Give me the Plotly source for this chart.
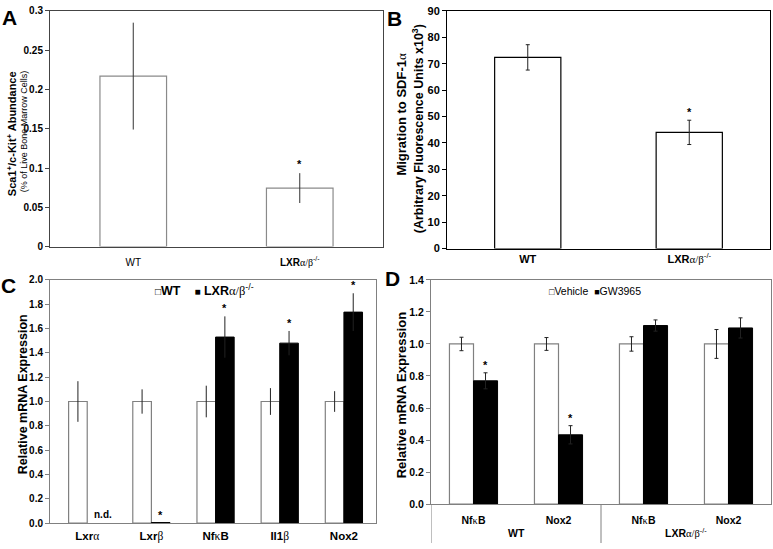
import re
import plotly.graph_objects as go

W, H = 773, 549

# ---------------- data ----------------
# Panel A
a_groups = ["WT", "LXRα/β-/-"]
a_values = [0.217, 0.0745]
a_errors = [0.068, 0.019]
a_sig = [False, True]
a_ticks = [0, 0.05, 0.1, 0.15, 0.2, 0.25, 0.3]
a_ticktext = ["0", "0.05", "0.1", "0.15", "0.2", "0.25", "0.3"]

# Panel B
b_groups = ["WT", "LXRα/β-/-"]
b_values = [72.4, 44.0]
b_errors = [4.8, 4.6]
b_sig = [False, True]
b_ticks = [0, 10, 20, 30, 40, 50, 60, 70, 80, 90]

# Panel C
c_genes = ["Lxrα", "Lxrβ", "NfκB", "Il1β", "Nox2"]
c_wt = [1.0, 1.0, 1.0, 1.0, 1.0]
c_wt_err = [0.167, 0.10, 0.13, 0.11, 0.085]
c_ko = [None, 0.005, 1.53, 1.48, 1.735]
c_ko_err = [0, 0, 0.17, 0.10, 0.155]
c_ko_sig = [False, True, True, True, True]
c_ko_nd = [True, False, False, False, False]
c_ticks = [0.0, 0.2, 0.4, 0.6, 0.8, 1.0, 1.2, 1.4, 1.6, 1.8, 2.0]

# Panel D
d_groups = ["WT", "WT", "LXRα/β-/-", "LXRα/β-/-"]
d_genes = ["NfκB", "Nox2", "NfκB", "Nox2"]
d_vehicle = [1.0, 1.0, 1.0, 1.0]
d_vehicle_err = [0.042, 0.04, 0.045, 0.09]
d_gw = [0.77, 0.433, 1.115, 1.10]
d_gw_err = [0.05, 0.057, 0.035, 0.063]
d_gw_sig = [True, True, False, False]
d_ticks = [0.0, 0.2, 0.4, 0.6, 0.8, 1.0, 1.2, 1.4]

FONT = "Arial, Liberation Sans, sans-serif"
SERIF = "Liberation Serif"


def rich(label, bold=True):
    sup = ""
    if label.endswith("-/-"):
        label, sup = label[:-3], "-/-"
    out = ""
    for run in re.findall(r"[αβκ/]+|[^αβκ/]+", label):
        if run[0] in "αβκ/":
            out += f"<span style='font-family:{SERIF}'>{run}</span>"
        else:
            out += f"<b>{run}</b>" if bold else run
    if sup:
        out += f"<sup>{sup}</sup>"
    return out


def px_x(p):
    return p / W


def px_y(p):
    return 1 - p / H


def dom_x(a, b):
    return [px_x(a), px_x(b)]


def dom_y(top, bottom):
    return [px_y(bottom), px_y(top)]


fig = go.Figure()
GRAY = "#808080"
ERR = "#222222"

# ---------- Panel A ----------
fig.add_trace(go.Bar(
    x=a_groups, y=a_values, xaxis="x", yaxis="y",
    width=0.4, offset=-0.2,
    marker=dict(color="white", line=dict(color="#8a8a8a", width=1.2)),
    error_y=dict(type="data", array=a_errors, color="#333333", thickness=1, width=0),
    showlegend=False,
))

# ---------- Panel B ----------
fig.add_trace(go.Bar(
    x=b_groups, y=b_values, xaxis="x2", yaxis="y2",
    width=0.41, offset=-0.205,
    marker=dict(color="white", line=dict(color="black", width=1.2)),
    error_y=dict(type="data", array=b_errors, color=ERR, thickness=1, width=2),
    showlegend=False,
))

# ---------- Panel C ----------
cw = 0.29
fig.add_trace(go.Bar(
    x=c_genes, y=c_wt, xaxis="x3", yaxis="y3", name="WT",
    width=cw, offset=-cw,
    marker=dict(color="white", line=dict(color=GRAY, width=1.2)),
    error_y=dict(type="data", array=c_wt_err, color=ERR, thickness=1, width=0),
    showlegend=False,
))
fig.add_trace(go.Bar(
    x=c_genes, y=c_ko, xaxis="x3", yaxis="y3", name="LXRα/β-/-",
    width=cw, offset=0,
    marker=dict(color="black", line=dict(color="black", width=1)),
    error_y=dict(type="data", array=c_ko_err, color=ERR, thickness=1, width=0),
    showlegend=False,
))

# ---------- Panel D ----------
dw = 0.283
d_keys = [f"{g}|{s}" for g, s in zip(d_groups, d_genes)]
fig.add_trace(go.Bar(
    x=d_keys, y=d_vehicle, xaxis="x4", yaxis="y4", name="Vehicle",
    width=dw, offset=-dw,
    marker=dict(color="white", line=dict(color=GRAY, width=1.2)),
    error_y=dict(type="data", array=d_vehicle_err, color=ERR, thickness=1, width=2),
    showlegend=False,
))
fig.add_trace(go.Bar(
    x=d_keys, y=d_gw, xaxis="x4", yaxis="y4", name="GW3965",
    width=dw, offset=0,
    marker=dict(color="black", line=dict(color="black", width=1)),
    error_y=dict(type="data", array=d_gw_err, color=ERR, thickness=1, width=2),
    showlegend=False,
))

ann = []
shapes = []

# significance stars
for i, (v, e, s) in enumerate(zip(a_values, a_errors, a_sig)):
    if s:
        ann.append(dict(xref="x", yref="y", x=i, y=v + e, text="<b>*</b>", showarrow=False,
                        yanchor="bottom", yshift=1, font=dict(size=11, family=FONT)))
for i, (v, e, s) in enumerate(zip(b_values, b_errors, b_sig)):
    if s:
        ann.append(dict(xref="x2", yref="y2", x=i, y=v + e, text="<b>*</b>", showarrow=False,
                        yanchor="bottom", yshift=0, font=dict(size=11, family=FONT)))
for i, (v, e, s, nd) in enumerate(zip(c_ko, c_ko_err, c_ko_sig, c_ko_nd)):
    if s:
        ann.append(dict(xref="x3", yref="y3", x=i + cw / 2, y=(v or 0) + e, text="<b>*</b>",
                        showarrow=False, yanchor="bottom", yshift=0, font=dict(size=11, family=FONT)))
    if nd:
        ann.append(dict(xref="x3", yref="y3", x=i + cw / 2, y=0, text="<b>n.d.</b>",
                        showarrow=False, yanchor="bottom", xshift=6, yshift=1,
                        font=dict(size=10, family=FONT)))
for i, (v, e, s) in enumerate(zip(d_gw, d_gw_err, d_gw_sig)):
    if s:
        ann.append(dict(xref="x4", yref="y4", x=i + dw / 2, y=v + e, text="<b>*</b>",
                        showarrow=False, yanchor="bottom", yshift=0, font=dict(size=11, family=FONT)))

# Panel D: group labels and separators of the two-level category axis
D_BOTTOM = 509.3
group_names = list(dict.fromkeys(d_groups))
for g in group_names:
    idx = [i for i, gg in enumerate(d_groups) if gg == g]
    ann.append(dict(xref="x4", yref="paper", x=sum(idx) / len(idx), y=px_y(547),
                    text=rich(g), showarrow=False, yanchor="bottom",
                    font=dict(size=10.5, family=FONT)))
boundaries = [-0.5] + [i - 0.5 for i in range(1, len(d_groups)) if d_groups[i] != d_groups[i - 1]]
for b in boundaries:
    shapes.append(dict(type="line", xref="x4", yref="paper", x0=b, x1=b,
                       y0=px_y(D_BOTTOM), y1=0, line=dict(color=GRAY, width=1)))


def paper_text(x, y, text, size, angle=0, xanchor="center", yanchor="middle", color="black"):
    ann.append(dict(xref="paper", yref="paper", x=px_x(x), y=px_y(y), text=text, showarrow=False,
                    textangle=angle, xanchor=xanchor, yanchor=yanchor,
                    font=dict(size=size, family=FONT, color=color)))


# panel letters
paper_text(9, 12, "<b>A</b>", 21)
paper_text(394, 13, "<b>B</b>", 21)
paper_text(8, 286, "<b>C</b>", 21)
paper_text(392, 279, "<b>D</b>", 21)

# axis titles
paper_text(12, 131, "<b>Sca1<sup>+</sup>/c-Kit<sup>+</sup> Abundance</b>", 11, angle=-90)
paper_text(24, 128, "(% of Live Bone Marrow Cells)", 9, angle=-90)
paper_text(402, 111, "<b>Migration to SDF-1</b><span style='font-family:Liberation Serif'>α</span>", 13, angle=-90)
paper_text(418, 126, "<b>(Arbitrary Fluorescence Units x10<sup>3</sup>)</b>", 12.5, angle=-90)
paper_text(23, 397, "<b>Relative mRNA Expression</b>", 12.5, angle=-90)
paper_text(401, 398, "<b>Relative mRNA Expression</b>", 13, angle=-90)

# legends (as text keys)
paper_text(153, 290, "<span style='font-size:10px'>□</span><b>WT</b>&nbsp;&nbsp;&nbsp;&nbsp;"
           "<span style='font-size:10px'>■</span>&nbsp;" + rich("LXRα/β-/-"), 12.5, xanchor="left")
paper_text(547, 291, "<span style='font-size:9px'>□</span>Vehicle&nbsp;&nbsp;"
           "<span style='font-size:9px'>■</span>GW3965", 10.5, xanchor="left")

common_y = dict(showgrid=False, zeroline=False, showline=True, mirror=True, ticks="outside",
                ticklen=4, tickwidth=1)
common_x = dict(showgrid=False, zeroline=False, showline=True, mirror=True, ticks="")

fig.update_layout(
    width=W, height=H,
    margin=dict(l=0, r=0, t=0, b=0),
    paper_bgcolor="white", plot_bgcolor="white",
    barmode="overlay",
    font=dict(family=FONT, color="black"),
    annotations=ann,
    shapes=shapes,
    xaxis=dict(domain=dom_x(50, 383), anchor="y", type="category", range=[-0.5, 1.5],
               tickmode="array", tickvals=a_groups,
               ticktext=["WT", rich("LXRα/β-/-")], ticklabelstandoff=6,
               tickfont=dict(size=10), linecolor="#444444", **common_x),
    yaxis=dict(domain=dom_y(5, 246), anchor="x", range=[0, 0.3], tickvals=a_ticks,
               ticktext=[f"<b>{t}</b>" for t in a_ticktext], tickfont=dict(size=10),
               linecolor="#444444", tickcolor="#444444", **common_y),
    xaxis2=dict(domain=dom_x(447, 770), anchor="y2", type="category", range=[-0.5, 1.5],
                tickmode="array", tickvals=b_groups,
                ticktext=[rich(g) for g in b_groups],
                tickfont=dict(size=11), linecolor="black", **common_x),
    yaxis2=dict(domain=dom_y(5, 248), anchor="x2", range=[0, 90], tickvals=b_ticks,
                ticktext=[f"<b>{t}</b>" for t in b_ticks], tickfont=dict(size=11),
                linecolor="black", tickcolor="black", **common_y),
    xaxis3=dict(domain=dom_x(50, 376), anchor="y3", type="category", range=[-0.58, 4.5],
                tickmode="array", tickvals=c_genes,
                ticktext=[rich(g) for g in c_genes], ticklabelstandoff=2,
                tickfont=dict(size=11.5), linecolor=GRAY, **common_x),
    yaxis3=dict(domain=dom_y(280, 528.7), anchor="x3", range=[0, 2.0], tickvals=c_ticks,
                ticktext=[f"<b>{t:.1f}</b>" for t in c_ticks], tickfont=dict(size=10),
                linecolor=GRAY, tickcolor=GRAY, **common_y),
    xaxis4=dict(domain=dom_x(431, 771), anchor="y4", type="category", range=[-0.5, 3.5],
                tickmode="array", tickvals=d_keys,
                ticktext=[rich(s) for s in d_genes], ticklabelstandoff=6,
                tickfont=dict(size=10.5), linecolor=GRAY, **common_x),
    yaxis4=dict(domain=dom_y(280, D_BOTTOM), anchor="x4", range=[0, 1.4], tickvals=d_ticks,
                ticktext=[f"<b>{t:.1f}</b>" for t in d_ticks], tickfont=dict(size=10.5),
                linecolor=GRAY, tickcolor=GRAY, **common_y),
)

fig.write_html(
    "out.html",
    config={"displayModeBar": False},
    post_script="document.body.style.margin='0';document.body.style.overflow='hidden';",
)
